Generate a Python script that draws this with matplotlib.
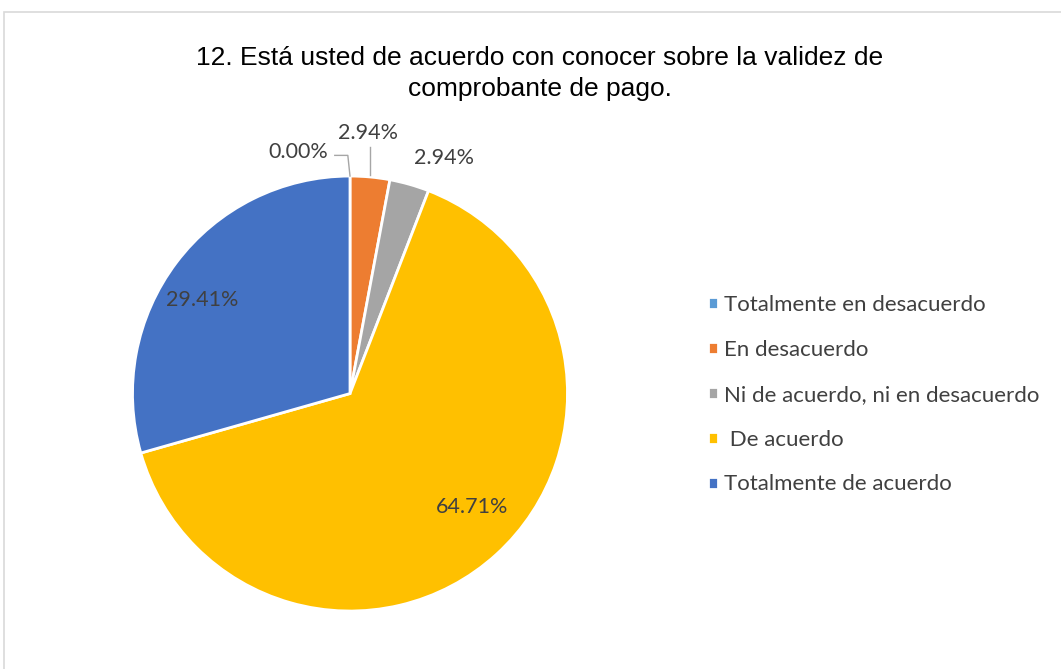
import matplotlib.pyplot as plt
from matplotlib.patches import Rectangle

# datos del grafico
categorias = ["Totalmente en desacuerdo", "En desacuerdo",
              "Ni de acuerdo, ni en desacuerdo", " De acuerdo",
              "Totalmente de acuerdo"]
porcentajes = [0.00, 2.94, 2.94, 64.71, 29.41]
colores = ["#5B9BD5", "#ED7D31", "#A5A5A5", "#FFC000", "#4472C4"]
titulo = "12. Está usted de acuerdo con conocer sobre la validez de\ncomprobante de pago."

fig = plt.figure(figsize=(10.61, 6.69), dpi=100)

# marco del area del grafico
fig.patches.append(Rectangle((4 / 1061, -0.1), 1.1, 0.982 + 0.1,
                             transform=fig.transFigure, fill=False,
                             edgecolor="#D9D9D9", linewidth=1.2))

ax = fig.add_axes([0.02238, -0.0759, 0.615, 0.9753])
wedges, _ = ax.pie(porcentajes, colors=colores, startangle=90, counterclock=False,
                   wedgeprops=dict(edgecolor="white", linewidth=2))
ax.set_xlim(-1.5, 1.5)
ax.set_ylim(-1.5, 1.5)
ax.set_aspect("equal")
ax.axis("off")

fuente = ["Lato", "DejaVu Sans"]
gris = "#404040"
# posiciones de etiquetas en coordenadas de datos
pos = [(-0.24, 1.11), (0.085, 1.2), (0.43, 1.085), (0.56, -0.52), (-0.68, 0.43)]
for (x, y), v in zip(pos, porcentajes):
    ax.text(x, y, "%.2f%%" % v, ha="center", va="center", fontsize=15.5,
            color=gris, family=fuente, clip_on=False)

# lineas guia
ax.plot([-0.07, -0.01, 0.0], [1.095, 1.095, 1.0], color="#A6A6A6", lw=1, clip_on=False)
ax.plot([0.093, 0.093], [1.135, 1.003], color="#A6A6A6", lw=1, clip_on=False)

fig.text(0.509, 0.89, titulo, ha="center", va="center", fontsize=19,
         color="black", family=["Liberation Sans", "DejaVu Sans"],
         linespacing=1.4)

fig.legend(wedges, categorias, loc="center left", bbox_to_anchor=(0.648, 0.41),
           frameon=False, handlelength=0.45, handleheight=0.45, handletextpad=0.3,
           labelspacing=1.12, prop=dict(family=fuente, size=16), labelcolor=gris)

fig.savefig("out.png", dpi=100)
